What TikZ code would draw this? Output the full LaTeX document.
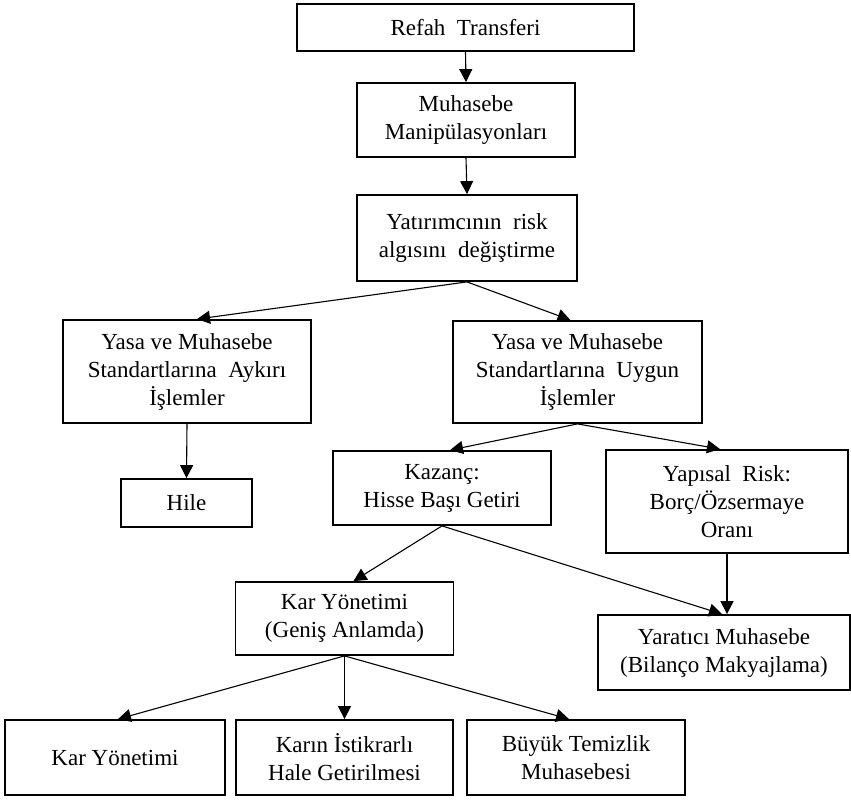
\documentclass[tikz,border=0pt]{standalone}
\usepackage{fontspec}
\setmainfont{Liberation Serif}
\usetikzlibrary{arrows.meta}
\begin{document}
\begin{tikzpicture}[x=1pt,y=-1pt,
  box/.style={draw,line width=1.8pt,rectangle,inner sep=0pt,align=center,
    font=\fontsize{23}{28}\selectfont},
  link/.style={line width=1.1pt,-{Triangle[length=13pt,width=13pt]}}]
\useasboundingbox (0,0) rectangle (851,800);
% boxes: centre, width, height
\node[box,minimum width=337pt,minimum height=47pt] (A) at (465.5,27.5) {Refah\ \ Transferi};
\node[box,minimum width=218pt,minimum height=74pt] (B) at (466,120) {Muhasebe\\Manipülasyonları};
\node[box,minimum width=220pt,minimum height=86pt] (C) at (467,238) {Yatırımcının\ \ risk\\algısını\ \ değiştirme};
\node[box,minimum width=248pt,minimum height=103pt] (D) at (187,371.5) {Yasa ve Muhasebe\\Standartlarına\ \ Aykırı\\İşlemler};
\node[box,minimum width=249pt,minimum height=102pt] (E) at (577.5,372) {Yasa ve Muhasebe\\Standartlarına\ \ Uygun\\İşlemler};
\node[box,minimum width=131pt,minimum height=48pt] (F) at (186.5,503) {Hile};
\node[box,minimum width=218pt,minimum height=74pt] (G) at (442,488) {Kazanç:\\Hisse Başı Getiri};
\node[box,minimum width=242pt,minimum height=103pt] (H) at (727,501.5) {Yapısal\ \ Risk:\\Borç/Özsermaye\\Oranı};
\node[box,minimum width=218pt,minimum height=73pt] (I) at (344.5,618.5) {Kar Yönetimi\\(Geniş Anlamda)};
\node[box,minimum width=252pt,minimum height=75pt] (J) at (724,652.5) {Yaratıcı Muhasebe\\(Bilanço Makyajlama)};
\node[box,minimum width=220pt,minimum height=75pt] (K) at (115,757.5) {Kar Yönetimi};
\node[box,minimum width=217pt,minimum height=75pt] (L) at (344.5,757.5) {Karın İstikrarlı\\Hale Getirilmesi};
\node[box,minimum width=218pt,minimum height=75pt] (M) at (576,757.5) {Büyük Temizlik\\Muhasebesi};
% connectors
\draw[link] (A.south) -- (B.north);
\draw[link] (B.south) -- (C.north);
\draw[link] (C.south) -- ([xshift=10pt]D.north);
\draw[link] (C.south) -- ([xshift=-7pt]E.north);
\draw[link] (D.south) -- (F.north);
\draw[link] (E.south) -- ([xshift=8pt]G.north);
\draw[link] (E.south) -- ([xshift=-7pt]H.north);
\draw[link] (G.south) -- ([xshift=9pt]I.north);
\draw[link] (G.south) -- ([xshift=-2pt]J.north);
\draw[link] (H.south) -- (H.south |- J.north);
\draw[link] (I.south) -- ([xshift=3pt]K.north);
\draw[link] (I.south) -- (L.north);
\draw[link] (I.south) -- ([xshift=-7pt]M.north);
\end{tikzpicture}
\end{document}
